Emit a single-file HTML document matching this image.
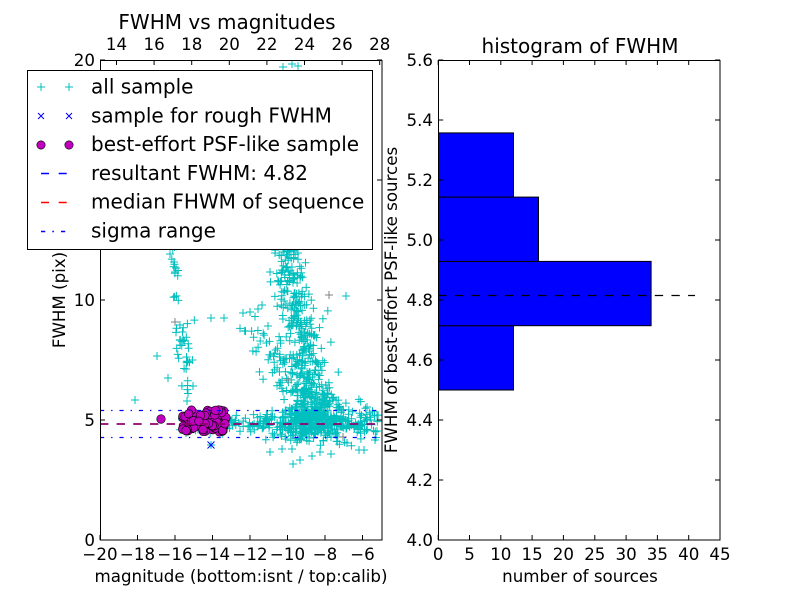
<!DOCTYPE html>
<html>
<head>
<meta charset="utf-8">
<style>
html,body{margin:0;padding:0;background:#fff}
svg{display:block}
text{font-family:"DejaVu Sans","Liberation Sans",sans-serif;fill:#000}
</style>
</head>
<body>
<svg id="s" width="800" height="600" viewBox="0 0 800 600" xmlns="http://www.w3.org/2000/svg">
<defs><clipPath id="c1"><rect x="100" y="60" width="282" height="480"/></clipPath></defs>
<rect x="0" y="0" width="800" height="600" fill="#fff"/>
<rect x="100" y="60" width="282" height="480" fill="#fff"/>
<g id="scat" clip-path="url(#c1)"></g>
<g clip-path="url(#c1)" fill="none">
  <line x1="100" y1="424" x2="382" y2="424" stroke="#0000ff" stroke-width="1.8" stroke-dasharray="8.33,8.33"/>
  <line x1="100" y1="424" x2="382" y2="424" stroke="#ff0000" stroke-width="1" stroke-dasharray="8.33,8.33"/>
  <line x1="100" y1="410.5" x2="382" y2="410.5" stroke="#0000ff" stroke-width="1.2" stroke-dasharray="4.17,6.94,1.39,6.94"/>
  <line x1="100" y1="437.5" x2="382" y2="437.5" stroke="#0000ff" stroke-width="1.2" stroke-dasharray="4.17,6.94,1.39,6.94"/>
</g>
<!-- left axes ticks -->
<path fill="none" stroke="#000" stroke-width="1" d="
M100 540v-5M137.5 540v-5M175 540v-5M212.5 540v-5M250 540v-5M287.5 540v-5M325 540v-5M362.5 540v-5
M116.5 60v5M154.1 60v5M191.7 60v5M229.3 60v5M266.9 60v5M304.5 60v5M342.1 60v5M379.7 60v5
M100 540h5M100 420h5M100 300h5M100 180h5M100 60h5
M382 540h-5M382 420h-5M382 300h-5M382 180h-5M382 60h-5"/>
<rect x="100.5" y="60.5" width="281.5" height="479.5" fill="none" stroke="#000" stroke-width="1"/>
<!-- left tick labels -->
<g font-size="16.67" text-anchor="middle">
<text x="100" y="560">−20</text><text x="137.5" y="560">−18</text><text x="175" y="560">−16</text><text x="212.5" y="560">−14</text>
<text x="250" y="560">−12</text><text x="287.5" y="560">−10</text><text x="325" y="560">−8</text><text x="362.5" y="560">−6</text>
<text x="116.5" y="50">14</text><text x="154.1" y="50">16</text><text x="191.7" y="50">18</text><text x="229.3" y="50">20</text>
<text x="266.9" y="50">22</text><text x="304.5" y="50">24</text><text x="342.1" y="50">26</text><text x="379.7" y="50">28</text>
</g>
<g font-size="16.67" text-anchor="end">
<text x="95" y="546">0</text><text x="95" y="426">5</text><text x="95" y="306">10</text><text x="95" y="186">15</text><text x="95" y="66">20</text>
</g>
<text x="227" y="29" font-size="20" text-anchor="middle">FWHM vs magnitudes</text>
<text x="241" y="582" font-size="16.67" text-anchor="middle">magnitude (bottom:isnt / top:calib)</text>
<text transform="translate(65,300) rotate(-90)" font-size="16.67" text-anchor="middle">FWHM (pix)</text>

<!-- legend -->
<rect x="27.5" y="70.5" width="345" height="179" fill="#fff" stroke="#000" stroke-width="1"/>
<path fill="none" stroke="#00bfbf" stroke-width="1" d="M37 87h8M41 83v8M65 87h8M69 83v8"/>
<path fill="none" stroke="#0000ff" stroke-width="1" d="M38 113l6 6M44 113l-6 6M66 113l6 6M72 113l-6 6"/>
<circle cx="41" cy="145" r="4.2" fill="#bf00bf" stroke="#000" stroke-width="0.6"/>
<circle cx="69" cy="145" r="4.2" fill="#bf00bf" stroke="#000" stroke-width="0.6"/>
<path fill="none" stroke="#0000ff" stroke-width="1.4" d="M41 173.5h8M58.7 173.5h8"/>
<path fill="none" stroke="#ff0000" stroke-width="1.4" d="M41 202.5h8M58.7 202.5h8"/>
<path fill="none" stroke="#0000ff" stroke-width="1.4" d="M41 231.5h4.2M52.3 231.5h1.6M61 231.5h4.2"/>
<g font-size="20">
<text x="91" y="93.5">all sample</text>
<text x="91" y="122.3">sample for rough FWHM</text>
<text x="91" y="151.1">best-effort PSF-like sample</text>
<text x="91" y="179.9">resultant FWHM: 4.82</text>
<text x="91" y="208.7">median FHWM of sequence</text>
<text x="91" y="237.5">sigma range</text>
</g>

<!-- right axes -->
<rect x="438.2" y="60" width="281.8" height="480" fill="#fff"/>
<g stroke="#000" stroke-width="1" fill="#0000ff">
<rect x="438.5" y="325.7" width="75" height="64.3"/>
<rect x="438.5" y="261.4" width="212.6" height="64.3"/>
<rect x="438.5" y="197.1" width="100" height="64.3"/>
<rect x="438.5" y="132.9" width="75" height="64.2"/>
</g>
<line x1="438.2" y1="295.5" x2="695" y2="295.5" stroke="#000" stroke-width="1.2" stroke-dasharray="8.33,8.33"/>
<path fill="none" stroke="#000" stroke-width="1" d="
M438.2 540v-5M469.5 540v-5M500.8 540v-5M532.1 540v-5M563.4 540v-5M594.8 540v-5M626.1 540v-5M657.4 540v-5M688.7 540v-5M720 540v-5
M438.2 60v5M469.5 60v5M500.8 60v5M532.1 60v5M563.4 60v5M594.8 60v5M626.1 60v5M657.4 60v5M688.7 60v5M720 60v5
M438.2 540h5M438.2 480h5M438.2 420h5M438.2 360h5M438.2 300h5M438.2 240h5M438.2 180h5M438.2 120h5M438.2 60h5
M720 540h-5M720 480h-5M720 420h-5M720 360h-5M720 300h-5M720 240h-5M720 180h-5M720 120h-5M720 60h-5"/>
<rect x="438.5" y="60.5" width="281.5" height="479.5" fill="none" stroke="#000" stroke-width="1"/>
<g font-size="16.67" text-anchor="middle">
<text x="438.2" y="560">0</text><text x="469.5" y="560">5</text><text x="500.8" y="560">10</text><text x="532.1" y="560">15</text>
<text x="563.4" y="560">20</text><text x="594.8" y="560">25</text><text x="626.1" y="560">30</text><text x="657.4" y="560">35</text>
<text x="688.7" y="560">40</text><text x="720" y="560">45</text>
</g>
<g font-size="16.67" text-anchor="end">
<text x="433" y="546">4.0</text><text x="433" y="486">4.2</text><text x="433" y="426">4.4</text><text x="433" y="366">4.6</text>
<text x="433" y="306">4.8</text><text x="433" y="246">5.0</text><text x="433" y="186">5.2</text><text x="433" y="126">5.4</text><text x="433" y="66">5.6</text>
</g>
<text x="580" y="53" font-size="20" text-anchor="middle">histogram of FWHM</text>
<text x="580" y="582" font-size="16.67" text-anchor="middle">number of sources</text>
<text transform="translate(397,300) rotate(-90)" font-size="16.67" text-anchor="middle">FWHM of best-effort PSF-like sources</text>
</svg>
<script>
(function(){
var NS='http://www.w3.org/2000/svg';
var seed=11;
function r(){seed=(seed*16807)%2147483647;return (seed-1)/2147483646;}
function g(){var u=r()||1e-6,v=r();return Math.sqrt(-2*Math.log(u))*Math.cos(6.283185*v);}
var P=[];function a(x,y){P.push([x,y]);}
var i,x,y,t,c,sd;
/* left streak */
for(i=0;i<22;i++){y=245+100*r();x=174+(y-250)*0.08+g()*2.5;a(x,y);}
for(i=0;i<26;i++){y=320+75*r();x=182+(y-320)*0.08+g()*4.5;a(x,y);}
/* main plume (visible part below legend) */
for(i=0;i<520;i++){y=420-175*Math.pow(r(),1.9);c=y<262?288:288+(y-262)*0.17;sd=8+Math.max(0,y-262)*0.04;a(c+g()*sd,y);}
/* left sparse branch */
for(i=0;i<35;i++){t=r();a(245+t*45+g()*7,312+t*80+g()*9);}
/* band */
for(i=0;i<40;i++){a(180+46*r(),424+g()*5);}
for(i=0;i<150;i++){a(225+157*r(),424+g()*4.5);}
for(i=0;i<230;i++){a(308+g()*20,426+g()*8.5);}
/* right sparse */
for(i=0;i<25;i++){a(335+45*r(),398+52*r());}
var F=[[135,400],[187,401],[157,356],[168,378],[224,318],[193,386],[211,318],[170,254],[282,449],[292,449],[293,464],[331,454],[359,450],[364,450],[347,443],[377,431],[375,440],[270,452],[300,460],[312,456],[320,452],[250,312],[243,313],[346,296],[377,415],[370,420],[367,407],[211,445],[174,262],[176,268],[175,272],[262,305],[258,309],[268,326],[283,67],[292,64],[298,66],[275,253],[283,252],[298,253],[270,272],[282,270],[293,274]];
F.forEach(function(p){a(p[0],p[1]);});
var d='';P.forEach(function(p){d+='M'+(p[0]-4).toFixed(1)+' '+p[1].toFixed(1)+'h8M'+p[0].toFixed(1)+' '+(p[1]-4).toFixed(1)+'v8';});
var grp=document.getElementById('scat');
var pe=document.createElementNS(NS,'path');pe.setAttribute('d',d);pe.setAttribute('fill','none');pe.setAttribute('stroke','#00bfbf');pe.setAttribute('stroke-width','1');grp.appendChild(pe);
var G=[[175,322],[329,295],[288,380],[343,437]];var dg='';
G.forEach(function(p){dg+='M'+(p[0]-4)+' '+p[1]+'h8M'+p[0]+' '+(p[1]-4)+'v8';});
var pg=document.createElementNS(NS,'path');pg.setAttribute('d',dg);pg.setAttribute('fill','none');pg.setAttribute('stroke','#808080');pg.setAttribute('stroke-width','1');grp.appendChild(pg);
var px=document.createElementNS(NS,'path');px.setAttribute('d','M207.5 441.5l7 7M214.5 441.5l-7 7');px.setAttribute('fill','none');px.setAttribute('stroke','#0000ff');px.setAttribute('stroke-width','1');grp.appendChild(px);
function circ(cx,cy){var ce=document.createElementNS(NS,'circle');ce.setAttribute('cx',cx.toFixed(1));ce.setAttribute('cy',cy.toFixed(1));ce.setAttribute('r','4.3');ce.setAttribute('fill','#bf00bf');ce.setAttribute('stroke','#000');ce.setAttribute('stroke-width','0.6');grp.appendChild(ce);}
circ(161,419);
for(i=0;i<85;i++){circ(182+44*r(),410+22*r());}
})();
</script>
</body>
</html>
